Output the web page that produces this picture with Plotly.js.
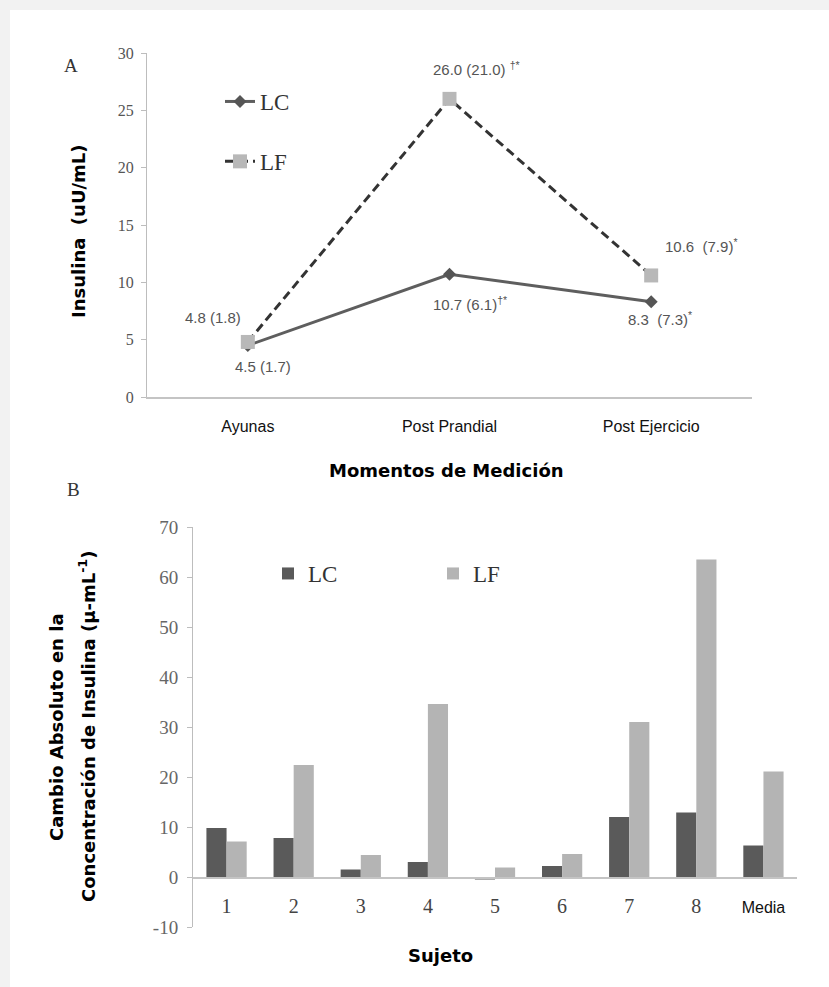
<!DOCTYPE html>
<html><head><meta charset="utf-8">
<script src="https://cdn.plot.ly/plotly-3.0.1.min.js"></script>
<style>html,body{margin:0;padding:0;background:#f2f2f2}</style>
</head><body><div id="chart" style="width:829px;height:987px"></div>
<script>
// ---- Panel A data ----
const momentos = ['Ayunas', 'Post Prandial', 'Post Ejercicio'];
const lcMedia = [4.5, 10.7, 8.3];
const lcDE = [1.7, 6.1, 7.3];
const lcMarcas = ['', '†*', '*'];
const lfMedia = [4.8, 26.0, 10.6];
const lfDE = [1.8, 21.0, 7.9];
const lfMarcas = ['', '†*', '*'];
const yTicksA = [0, 5, 10, 15, 20, 25, 30];

// ---- Panel B data ----
const sujetos = ['1', '2', '3', '4', '5', '6', '7', '8', 'Media'];
const cambioLC = [9.8, 7.8, 1.5, 3.0, -0.5, 2.2, 12.0, 12.9, 6.3];
const cambioLF = [7.1, 22.4, 4.4, 34.6, 1.9, 4.6, 31.0, 63.5, 21.1];
const yTicksB = [-10, 0, 10, 20, 30, 40, 50, 60, 70];

// ---- styles ----
const W = 829, H = 987;
const px = v => v / W, py = v => 1 - v / H;
const NB = '\u00a0';
const lcSep = [' ', ' ', NB + NB];
const lfSep = [' ', ' ', NB + NB];
const lfSupSep = ['', ' ', ''];
const lcShift = [[15, -21], [20, -29], [9, -17]];
const lfShift = [[-35, 24], [27, 30], [50, 30]];

function label(m, d, sep, mark, supsep) {
  return m.toFixed(1) + sep + '(' + d.toFixed(1) + ')' + (mark ? (supsep || '') + '<sup>' + mark + '</sup>' : '');
}

const labelFont = {family: 'Liberation Sans, Arial, sans-serif', size: 15, color: '#555'};
const annotations = [];
momentos.forEach((m, i) => {
  annotations.push({xref: 'x', yref: 'y', x: m, y: lcMedia[i], text: label(lcMedia[i], lcDE[i], lcSep[i], lcMarcas[i]),
    showarrow: false, xanchor: 'center', yanchor: 'middle', xshift: lcShift[i][0], yshift: lcShift[i][1], font: labelFont});
  annotations.push({xref: 'x', yref: 'y', x: m, y: lfMedia[i], text: label(lfMedia[i], lfDE[i], lfSep[i], lfMarcas[i], lfSupSep[i]),
    showarrow: false, xanchor: 'center', yanchor: 'middle', xshift: lfShift[i][0], yshift: lfShift[i][1], font: labelFont});
});
const titleFont = {family: 'DejaVu Sans, sans-serif', size: 18, color: '#000', weight: 'bold'};
const paperText = (x, y, text, font, angle) => ({xref: 'paper', yref: 'paper', x: px(x), y: py(y), text: text,
  textangle: angle || 0, showarrow: false, xanchor: 'center', yanchor: 'middle', font: font});
const letterFont = {family: 'Liberation Serif', size: 19, color: '#333'};
annotations.push(
  paperText(71, 66, 'A', letterFont),
  paperText(73, 489, 'B', letterFont),
  paperText(78, 231, '<b>Insulina  (uU/mL)</b>', titleFont, -90),
  paperText(446, 470, '<b>Momentos de Medición</b>', titleFont),
  paperText(56, 727, '<b>Cambio Absoluto en la</b>', titleFont, -90),
  paperText(87, 727, '<b>Concentración de Insulina (µ-mL<sup>-1</sup>)</b>', titleFont, -90),
  paperText(440, 955, '<b>Sujeto</b>', titleFont)
);

const traces = [
  {type: 'scatter', mode: 'lines+markers', name: 'LC', x: momentos, y: lcMedia, xaxis: 'x', yaxis: 'y',
   line: {color: '#5e5e5e', width: 3}, marker: {symbol: 'diamond', size: 10, color: '#555'},
   legend: 'legend', legendgroup: 'a1'},
  {type: 'scatter', mode: 'lines+markers', name: 'LF', x: momentos, y: lfMedia, xaxis: 'x', yaxis: 'y',
   line: {color: '#333', width: 3, dash: '9px,5px'}, marker: {symbol: 'square', size: 14, color: '#b8b8b8'},
   legend: 'legend', legendgroup: 'a2'},
  {type: 'bar', name: 'LC', x: sujetos, y: cambioLC, xaxis: 'x2', yaxis: 'y2', marker: {color: '#5a5a5a'}, legend: 'legend2'},
  {type: 'bar', name: 'LF', x: sujetos, y: cambioLF, xaxis: 'x2', yaxis: 'y2', marker: {color: '#b4b4b4'}, legend: 'legend2'}
];

const layout = {
  width: W, height: H,
  margin: {l: 0, r: 0, t: 0, b: 0},
  paper_bgcolor: '#f2f2f2',
  plot_bgcolor: 'rgba(0,0,0,0)',
  showlegend: true,
  barmode: 'group', bargap: 0.4, bargroupgap: 0,
  shapes: [{type: 'rect', xref: 'paper', yref: 'paper', x0: px(10), x1: 1, y0: 0, y1: py(10),
            fillcolor: '#ffffff', line: {width: 0}, layer: 'below'}],
  xaxis: {domain: [px(147), px(752)], anchor: 'y', type: 'category', range: [-0.5, 2.5],
          showline: true, linecolor: '#c4c4c4', linewidth: 1.5, ticks: '', showgrid: false, zeroline: false,
          tickfont: {family: 'Liberation Sans, Arial, sans-serif', size: 16, color: '#111'}, ticklabelstandoff: 14},
  yaxis: {domain: [py(397), py(53)], anchor: 'x', range: [0, 30],
          tickmode: 'array', tickvals: yTicksA, ticktext: yTicksA.map(String),
          showline: true, linecolor: '#bdbdbd', ticks: 'outside', ticklen: 5, tickcolor: '#bdbdbd',
          showgrid: false, zeroline: false,
          tickfont: {family: 'Liberation Serif', size: 16, color: '#555'}, ticklabelstandoff: 4},
  xaxis2: {domain: [px(193), px(797)], anchor: 'free', position: py(877), type: 'category', range: [-0.5, 8.5],
           showline: true, linecolor: '#c4c4c4', linewidth: 1.5, ticks: '', showgrid: false, zeroline: false,
           tickmode: 'array', tickvals: sujetos,
           ticktext: sujetos.map(s => s === 'Media' ? '<span style="font-family:Liberation Sans;font-size:16px;fill:#111">' + s + '</span>' : s),
           tickfont: {family: 'Liberation Serif', size: 20, color: '#444'}, ticklabelstandoff: 10},
  yaxis2: {domain: [py(927), py(527)], anchor: 'x2', range: [-10, 70],
           tickmode: 'array', tickvals: yTicksB, ticktext: yTicksB.map(String),
           showline: true, linecolor: '#bdbdbd', ticks: 'outside', ticklen: 5, tickcolor: '#bdbdbd',
           showgrid: false, zeroline: false,
           tickfont: {family: 'Liberation Serif', size: 19, color: '#666'}, ticklabelstandoff: 5},
  legend: {x: px(220), y: py(80), xanchor: 'left', yanchor: 'top', bgcolor: 'rgba(0,0,0,0)',
           font: {family: 'Liberation Serif', size: 23, color: '#333'},
           traceorder: 'grouped', tracegroupgap: 27},
  legend2: {orientation: 'h', x: px(268), y: py(552), xanchor: 'left', yanchor: 'top', bgcolor: 'rgba(0,0,0,0)',
            entrywidth: 120, entrywidthmode: 'pixels', itemwidth: 30,
            font: {family: 'Liberation Serif', size: 23, color: '#333'}},
  annotations: annotations
};

Plotly.newPlot('chart', traces, layout, {displayModeBar: false, staticPlot: true});
</script>
</body></html>
